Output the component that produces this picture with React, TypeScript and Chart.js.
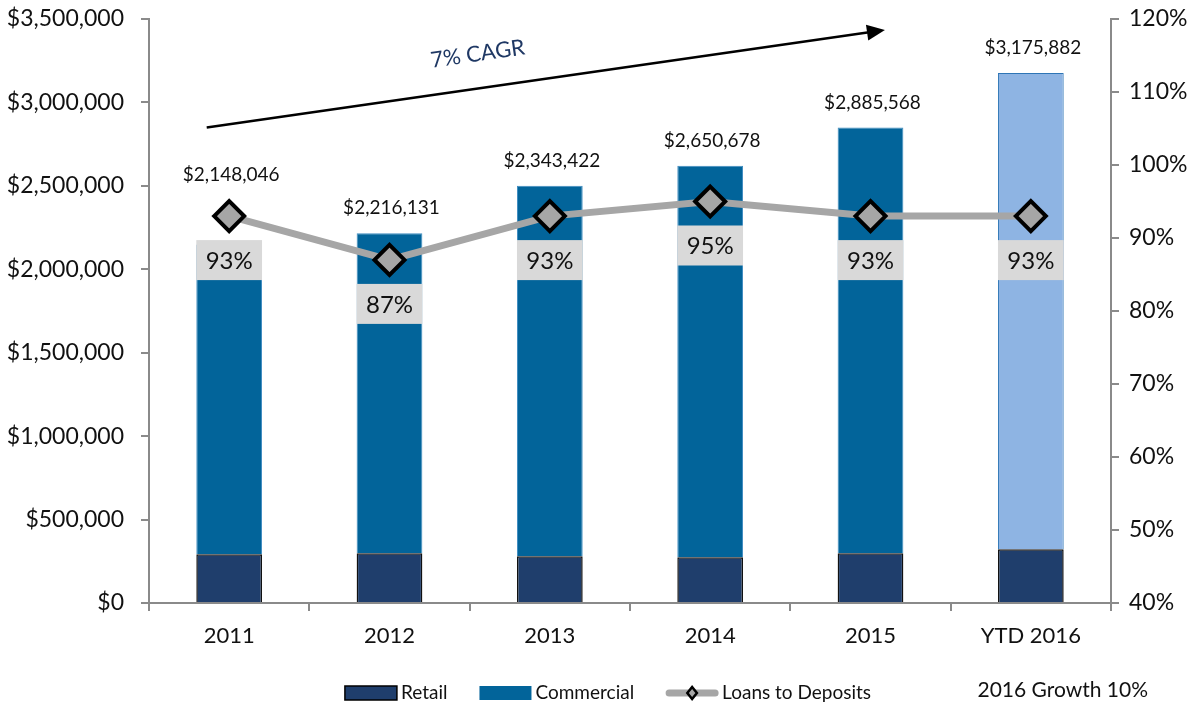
import React, { useEffect, useRef } from 'react';
import { Chart, registerables } from 'chart.js';

Chart.register(...registerables);

// ---- data ----
const categories = ['2011', '2012', '2013', '2014', '2015', 'YTD 2016'];
const retail = [292000, 298000, 280000, 274000, 298000, 322000];
const commercial = [1856000, 1918000, 2220000, 2346000, 2552000, 2854000];
const loansToDeposits = [93, 87, 93, 95, 93, 93];
const totalLabels = ['$2,148,046', '$2,216,131', '$2,343,422', '$2,650,678', '$2,885,568', '$3,175,882'];
const legendLabels = ['Retail', 'Commercial', 'Loans to Deposits'];
const cagrLabel = '7% CAGR';
const growthNote = '2016 Growth 10%';

// annotation anchors (category index, left-axis value)
const arrowFrom = { index: -0.14, value: 2850000 };
const arrowTo = { index: 4.09, value: 3434000 };
const cagrAt = { index: 1.55, value: 3290000 };

const FONT = 'Lato, "Open Sans", sans-serif';
const C_RETAIL = '#1f3e6c';
const C_COMM = '#02649a';
const C_COMM_YTD = '#8eb4e3';
const C_LINE = '#a6a6a6';
const C_AXIS = '#8a8a8a';

const xAt = (chart: any, idx: number) => {
  const xs = chart.scales.x;
  const p0 = xs.getPixelForValue(0);
  const p1 = xs.getPixelForValue(1);
  return p0 + (p1 - p0) * idx;
};

const overlayPlugin = {
  id: 'overlay',
  afterDatasetsDraw(chart: any) {
    const ctx = chart.ctx;
    const commMeta = chart.getDatasetMeta(1);
    const lineMeta = chart.getDatasetMeta(2);
    ctx.save();
    // percent boxes
    lineMeta.data.forEach((pt: any, i: number) => {
      const bar = commMeta.data[i];
      const w = bar.width;
      const cy = pt.y + 44;
      ctx.fillStyle = '#d9d9d9';
      ctx.fillRect(pt.x - w / 2, cy - 20, w, 40);
      ctx.fillStyle = '#111';
      ctx.font = `24px ${FONT}`;
      ctx.textAlign = 'center';
      ctx.textBaseline = 'middle';
      ctx.fillText(`${loansToDeposits[i]}%`, pt.x, cy + 1);
    });
    // total labels
    commMeta.data.forEach((bar: any, i: number) => {
      const pt = lineMeta.data[i];
      const top = Math.min(bar.y, pt.y - 16);
      ctx.fillStyle = '#111';
      ctx.font = `19px ${FONT}`;
      ctx.textAlign = 'center';
      ctx.textBaseline = 'middle';
      ctx.fillText(totalLabels[i], bar.x + 2, top - 25);
    });
    // CAGR arrow
    const ys = chart.scales.y;
    const x1 = xAt(chart, arrowFrom.index), y1 = ys.getPixelForValue(arrowFrom.value);
    const x2 = xAt(chart, arrowTo.index), y2 = ys.getPixelForValue(arrowTo.value);
    const ang = Math.atan2(y2 - y1, x2 - x1);
    const headLen = 18, headW = 8;
    ctx.strokeStyle = '#000';
    ctx.lineWidth = 2.5;
    ctx.beginPath();
    ctx.moveTo(x1, y1);
    ctx.lineTo(x2 - Math.cos(ang) * (headLen - 2), y2 - Math.sin(ang) * (headLen - 2));
    ctx.stroke();
    ctx.fillStyle = '#000';
    ctx.beginPath();
    ctx.moveTo(x2, y2);
    const bx = x2 - Math.cos(ang) * headLen, by = y2 - Math.sin(ang) * headLen;
    ctx.lineTo(bx + Math.sin(ang) * headW, by - Math.cos(ang) * headW);
    ctx.lineTo(bx - Math.sin(ang) * headW, by + Math.cos(ang) * headW);
    ctx.closePath();
    ctx.fill();
    // CAGR text
    ctx.save();
    ctx.translate(xAt(chart, cagrAt.index), ys.getPixelForValue(cagrAt.value));
    ctx.rotate(ang);
    ctx.fillStyle = '#1f3864';
    ctx.font = `22px ${FONT}`;
    ctx.textAlign = 'center';
    ctx.textBaseline = 'middle';
    ctx.fillText(cagrLabel, 0, 0);
    ctx.restore();
    ctx.restore();
  },
  afterDraw(chart: any) {
    const ctx = chart.ctx;
    ctx.save();
    const fs = 19;
    ctx.font = `${fs}px ${FONT}`;
    ctx.textBaseline = 'middle';
    ctx.textAlign = 'left';
    const boxW = 52, gap = 4, itemGap = 32;
    const widths = legendLabels.map((t) => boxW + gap + ctx.measureText(t).width);
    const total = widths.reduce((a, b) => a + b, 0) + itemGap * (widths.length - 1);
    const cy = chart.height - 10;
    let x = chart.width / 2 + 9 - total / 2;
    legendLabels.forEach((t, i) => {
      if (i === 0) {
        ctx.fillStyle = C_RETAIL;
        ctx.fillRect(x, cy - 7, boxW, 14);
        ctx.strokeStyle = '#000';
        ctx.lineWidth = 1.5;
        ctx.strokeRect(x, cy - 7, boxW, 14);
      } else if (i === 1) {
        ctx.fillStyle = C_COMM;
        ctx.fillRect(x, cy - 7, boxW, 14);
      } else {
        ctx.strokeStyle = C_LINE;
        ctx.lineWidth = 7;
        ctx.lineCap = 'round';
        ctx.beginPath();
        ctx.moveTo(x + 3, cy);
        ctx.lineTo(x + boxW - 3, cy);
        ctx.stroke();
        ctx.lineCap = 'butt';
        ctx.fillStyle = C_LINE;
        ctx.strokeStyle = '#000';
        ctx.lineWidth = 2.5;
        const r = 6, mx = x + boxW / 2;
        ctx.beginPath();
        ctx.moveTo(mx, cy - r);
        ctx.lineTo(mx + r * 0.8, cy);
        ctx.lineTo(mx, cy + r);
        ctx.lineTo(mx - r * 0.8, cy);
        ctx.closePath();
        ctx.fill();
        ctx.stroke();
      }
      ctx.fillStyle = '#111';
      ctx.fillText(t, x + boxW + gap, cy);
      x += widths[i] + itemGap;
    });
    ctx.font = `21px ${FONT}`;
    ctx.textAlign = 'right';
    ctx.fillText(growthNote, chart.chartArea.right + 37, cy - 3);
    ctx.restore();
  },
};

export default function App() {
  const ref = useRef<HTMLCanvasElement | null>(null);
  useEffect(() => {
    document.body.style.margin = '0';
    const canvas = ref.current;
    if (!canvas) return;
    const axisGrid = {
      drawOnChartArea: false,
      drawTicks: true,
      tickLength: 8,
      color: C_AXIS,
      lineWidth: 2,
    };
    const chart = new Chart(canvas, {
      type: 'bar',
      data: {
        labels: categories,
        datasets: [
          {
            label: legendLabels[0],
            data: retail,
            backgroundColor: C_RETAIL,
            borderColor: '#111',
            borderWidth: 1.5,
            stack: 's',
            order: 1,
            barPercentage: 0.41,
            categoryPercentage: 1,
          },
          {
            label: legendLabels[1],
            data: commercial,
            backgroundColor: categories.map((c, i) => (i === categories.length - 1 ? C_COMM_YTD : C_COMM)),
            borderColor: categories.map((c, i) => (i === categories.length - 1 ? '#2e75b6' : '#3f8cc0')),
            borderWidth: 1,
            stack: 's',
            order: 2,
            barPercentage: 0.41,
            categoryPercentage: 1,
          },
          {
            type: 'line',
            label: legendLabels[2],
            data: loansToDeposits,
            yAxisID: 'y1',
            borderColor: C_LINE,
            borderWidth: 7,
            pointStyle: 'rectRot',
            pointRadius: 15,
            pointBackgroundColor: C_LINE,
            pointBorderColor: '#000',
            pointBorderWidth: 4,
            tension: 0,
            order: 0,
          } as any,
        ],
      },
      options: {
        responsive: false,
        animation: false,
        layout: { padding: { top: 0, left: 0, right: 0, bottom: 0 } },
        plugins: {
          legend: { display: false },
          tooltip: { enabled: false },
        },
        scales: {
          x: {
            stacked: true,
            grid: { ...axisGrid, offset: true },
            border: { color: C_AXIS, width: 2 },
            ticks: { color: '#111', font: { family: FONT, size: 22 }, padding: 12 },
            afterFit: (s: any) => { s.height = 100; },
          },
          y: {
            stacked: true,
            min: 0,
            max: 3500000,
            position: 'left',
            grid: axisGrid,
            border: { color: C_AXIS, width: 2 },
            ticks: {
              stepSize: 500000,
              color: '#111',
              font: { family: FONT, size: 23 },
              padding: 17,
              callback: (v: any) => '$' + Number(v).toLocaleString('en-US'),
            },
            afterFit: (s: any) => { s.width = 149; s.paddingTop = 16; s.paddingBottom = 14; },
          },
          y1: {
            min: 40,
            max: 120,
            position: 'right',
            grid: axisGrid,
            border: { color: C_AXIS, width: 2 },
            ticks: {
              stepSize: 10,
              color: '#111',
              font: { family: FONT, size: 23 },
              padding: 10,
              callback: (v: any) => `${v}%`,
            },
            afterFit: (s: any) => { s.width = 87; s.paddingTop = 16; s.paddingBottom = 14; },
          },
        },
      },
      plugins: [overlayPlugin],
    });
    return () => chart.destroy();
  }, []);
  return <canvas ref={ref} width={1198} height={703} style={{ display: 'block' }} />;
}
